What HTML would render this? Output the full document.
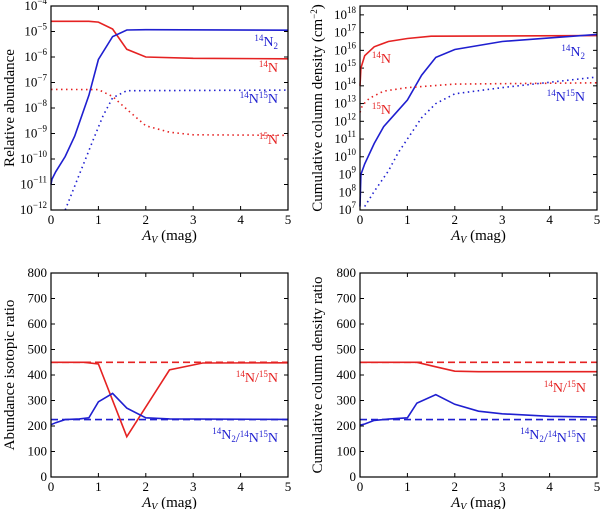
<!DOCTYPE html>
<html><head><meta charset="utf-8"><style>
html,body{margin:0;padding:0;background:#fff;}
svg, svg text, svg tspan{font-family:"Liberation Serif","DejaVu Serif",serif !important;}
</style></head><body>
<svg id="fig" width="600" height="509" viewBox="0 0 600 509" xmlns="http://www.w3.org/2000/svg" font-family="Liberation Serif, DejaVu Serif, serif"></svg>
<script>
const tlN14X=[0,0.8,1.0,1.3,1.6,2.0,3,5];
const tlN14Y=[-4.6,-4.6,-4.63,-4.9,-5.7,-6.0,-6.05,-6.07];
const tlN2X=[0,0.02,0.1,0.3,0.5,0.8,1.0,1.3,1.6,2,5];
const tlN2Y=[-11.0,-10.8,-10.5,-9.9,-9.1,-7.5,-6.1,-5.2,-4.94,-4.93,-4.95];
const tlN15X=[0,1.0,1.3,1.6,2.0,2.5,3,5];
const tlN15Y=[-7.27,-7.28,-7.55,-8.05,-8.7,-8.95,-9.05,-9.07];
const tlN1415X=[0.3,0.6,0.9,1.1,1.3,1.6,5];
const tlN1415Y=[-12,-10.6,-9.2,-8.3,-7.6,-7.32,-7.3];

const trN14X=[0,0.02,0.1,0.3,0.6,1.0,1.5,5];
const trN14Y=[14.0,15.0,15.7,16.2,16.5,16.67,16.8,16.83];
const trN2X=[0,0.02,0.1,0.3,0.5,0.8,1.0,1.3,1.6,2,3,4,5];
const trN2Y=[7.2,9.0,9.6,10.75,11.7,12.6,13.2,14.6,15.6,16.05,16.5,16.7,16.9];
const trN15X=[0,0.05,0.2,0.5,1.0,2,5];
const trN15Y=[12.5,12.9,13.3,13.7,13.9,14.1,14.17];
const trN1415X=[0.1,0.3,0.6,0.8,1.0,1.3,1.6,2,3,4,5];
const trN1415Y=[7.2,8.05,9.2,10.2,11.0,12.2,13.0,13.55,13.9,14.2,14.5];

const blRedX=[0,0.7,1.0,1.6,2.5,3.2,5];
const blRedY=[450,450,443,158,420,447,448];
const blBlueX=[0,0.1,0.3,0.6,0.8,1.0,1.3,1.6,2.0,2.5,5];
const blBlueY=[205,213,225,228,232,295,328,270,232,228,226];
const brRedX=[0,1.2,1.6,2.0,2.5,5];
const brRedY=[450,450,432,415,413,413];
const brBlueX=[0,0.1,0.3,0.6,1.0,1.2,1.6,2.0,2.5,3,4,5];
const brBlueY=[203,208,222,227,232,290,323,285,258,248,238,235];
const refRatios=[450,225];
const xTicks=[0,1,2,3,4,5];

const RED='#e52222', BLUE='#1f1fd0';
const FONT='Liberation Serif, DejaVu Serif, serif';
const NS='http://www.w3.org/2000/svg';
const svg=document.getElementById('fig');
function el(tag,attrs,parent){const e=document.createElementNS(NS,tag);for(const k in attrs)e.setAttribute(k,attrs[k]);if(tag==='text')e.setAttribute('font-family',FONT);(parent||svg).appendChild(e);return e;}

function panel(p){
  const g=el('g',{});
  
  
  const sx=v=>p.x0+(v-0)/5*(p.x1-p.x0);
  const sy=v=>p.yb+(v-p.ymin)/(p.ymax-p.ymin)*(p.yt-p.yb);
  for(const t of xTicks){
    const X=sx(t);
    el('line',{x1:X,x2:X,y1:p.yb,y2:p.yb-4,stroke:'#000','stroke-width':1},g);
    el('line',{x1:X,x2:X,y1:p.yt,y2:p.yt+4,stroke:'#000','stroke-width':1},g);
    const tl=el('text',{x:X,y:p.yb+14,'font-size':13,'text-anchor':'middle'},g);
    tl.textContent=t;
    
    
  }
  for(let v=p.ymin;v<=p.ymax;v+=p.ystep){
    const Y=sy(v);
    el('line',{x1:p.x0,x2:p.x0+4,y1:Y,y2:Y,stroke:'#000','stroke-width':1},g);
    el('line',{x1:p.x1,x2:p.x1-4,y1:Y,y2:Y,stroke:'#000','stroke-width':1},g);
    const tl=el('text',{x:p.x0-4,y:Y+4,'font-size':13,'text-anchor':'end'},g);
    
    
    if(p.log){
      const b=el('tspan',{},tl);b.textContent='10';
      const s=el('tspan',{dy:-6,'font-size':9},tl);
      s.textContent=v<0?('\u2212'+(-v)):String(v);
    } else tl.textContent=v;
  }
  for(const s of p.series){
    const pts=s.x.map((xv,i)=>{let yv=Math.max(p.ymin,Math.min(p.ymax,s.y[i]));return sx(xv).toFixed(1)+','+sy(yv).toFixed(1);}).join(' ');
    const pl=el('polyline',{points:pts,fill:'none',stroke:s.c,'stroke-width':1.6,'stroke-dasharray':s.d||'none'},g);
    
    
  }
  el('rect',{x:p.x0,y:p.yt,width:p.x1-p.x0,height:p.yb-p.yt,fill:'none',stroke:'#000','stroke-width':1.2},g);
  const xt=el('text',{x:(p.x0+p.x1)/2,y:p.yb+30,'font-size':15,'text-anchor':'middle'},g);
  
  
  const a=el('tspan',{'font-style':'italic'},xt);a.textContent='A';
  const v=el('tspan',{'font-style':'italic','font-size':10,dy:3},xt);v.textContent='V';
  const m=el('tspan',{dy:-3},xt);m.textContent=' (mag)';
  const cy=(p.yt+p.yb)/2;
  const yt=el('text',{x:p.ytx,y:cy,'font-size':15,'text-anchor':'middle',transform:`rotate(-90 ${p.ytx} ${cy})`},g);
  
  
  yt.innerHTML=p.ytitle;
  for(const L of p.labels){
    const t=el('text',{x:L[0],y:L[1],'font-size':14,fill:L[2],'text-anchor':'end'},g);
    
    
    t.innerHTML=L[3];
  }
}
const sup=s=>`<tspan dy="-5" font-size="9">${s}</tspan><tspan dy="5">`;
const N14=sup('14')+'N</tspan>', N15=sup('15')+'N</tspan>';
const N2=sup('14')+'N</tspan><tspan dy="3" font-size="9">2</tspan><tspan dy="-3"></tspan>';
const N1415=sup('14')+'N</tspan>'+sup('15')+'N</tspan>';

panel({name:'panel-relative-abundance',x0:51,x1:288,yt:6,yb:210,ymin:-12,ymax:-4,ystep:1,log:true,ytx:14,
  ytitle:'Relative abundance',
  series:[{x:tlN14X,y:tlN14Y,c:RED,n:'line-14N'},{x:tlN2X,y:tlN2Y,c:BLUE,n:'line-14N2'},
          {x:tlN15X,y:tlN15Y,c:RED,d:'1.5,3.5',n:'line-15N'},{x:tlN1415X,y:tlN1415Y,c:BLUE,d:'1.5,3.5',n:'line-14N15N'}],
  labels:[[278,46,BLUE,N2],[278,72,RED,N14],[278,103,BLUE,N1415],[278,144,RED,N15]]});
panel({name:'panel-cumulative-column-density',x0:360,x1:597,yt:6,yb:210,ymin:7,ymax:18.5,ystep:1,log:true,ytx:322,
  ytitle:'Cumulative column density (cm<tspan dy="-5" font-size="9">\u22122</tspan><tspan dy="5">)</tspan>',
  series:[{x:trN14X,y:trN14Y,c:RED,n:'line-14N'},{x:trN2X,y:trN2Y,c:BLUE,n:'line-14N2'},
          {x:trN15X,y:trN15Y,c:RED,d:'1.5,3.5',n:'line-15N'},{x:trN1415X,y:trN1415Y,c:BLUE,d:'1.5,3.5',n:'line-14N15N'}],
  labels:[[391,63,RED,N14],[391,114,RED,N15],[585,56,BLUE,N2],[585,101,BLUE,N1415]]});
panel({name:'panel-abundance-isotopic-ratio',x0:51,x1:288,yt:273,yb:477,ymin:0,ymax:800,ystep:100,log:false,ytx:14,
  ytitle:'Abundance isotopic ratio',
  series:[{x:[0,5],y:[refRatios[0],refRatios[0]],c:RED,d:'7,4',n:'ref-14N-15N'},{x:[0,5],y:[refRatios[1],refRatios[1]],c:BLUE,d:'7,4',n:'ref-14N2-14N15N'},
          {x:blRedX,y:blRedY,c:RED,n:'line-14N-15N-ratio'},{x:blBlueX,y:blBlueY,c:BLUE,n:'line-14N2-14N15N-ratio'}],
  labels:[[278,382,RED,N14+'/'+N15],[278,439,BLUE,N2+'/'+N1415]]});
panel({name:'panel-column-density-ratio',x0:360,x1:597,yt:273,yb:477,ymin:0,ymax:800,ystep:100,log:false,ytx:322,
  ytitle:'Cumulative column density ratio',
  series:[{x:[0,5],y:[refRatios[0],refRatios[0]],c:RED,d:'7,4',n:'ref-14N-15N'},{x:[0,5],y:[refRatios[1],refRatios[1]],c:BLUE,d:'7,4',n:'ref-14N2-14N15N'},
          {x:brRedX,y:brRedY,c:RED,n:'line-14N-15N-ratio'},{x:brBlueX,y:brBlueY,c:BLUE,n:'line-14N2-14N15N-ratio'}],
  labels:[[586,392,RED,N14+'/'+N15],[586,439,BLUE,N2+'/'+N1415]]});
</script>
</body></html>
